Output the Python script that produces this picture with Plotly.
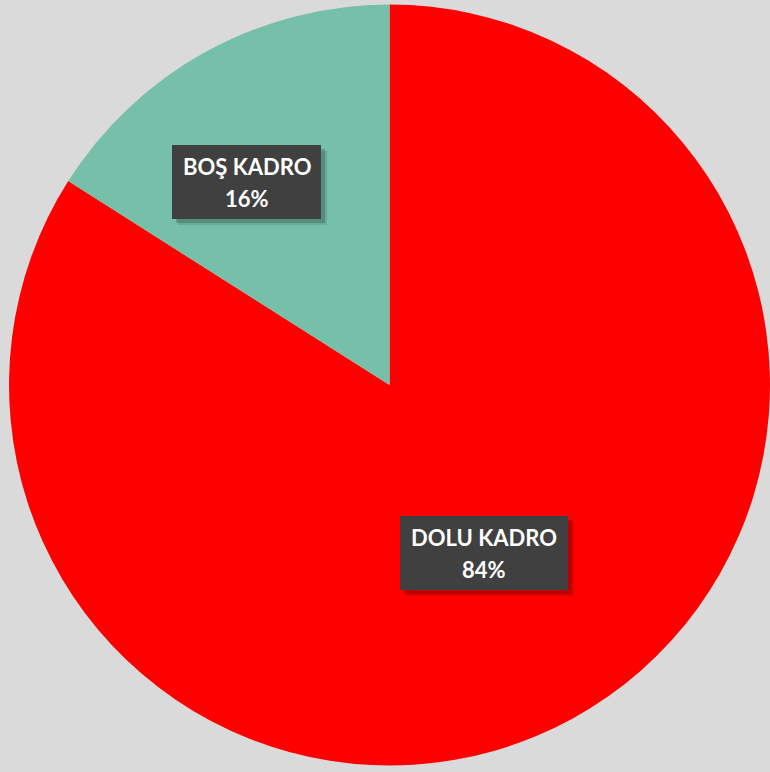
import plotly.graph_objects as go

labels = ["DOLU KADRO", "BOŞ KADRO"]
values = [84, 16]
colors = ["#ff0000", "#76bfa8"]

W, H = 770, 772
# label box centres and sizes in pixels
label_px = {"DOLU KADRO": (484, 553), "BOŞ KADRO": (246.5, 182)}
box_w = {"DOLU KADRO": 168, "BOŞ KADRO": 149}
box_h = 74

total = sum(values)
fig = go.Figure(go.Pie(
    labels=labels, values=values, sort=False, direction="clockwise", rotation=0,
    marker=dict(colors=colors, line=dict(width=0)),
    textinfo="none", hoverinfo="label+percent",
    domain=dict(x=[0.0117, 1.0], y=[0.0065, 0.9961]),
    showlegend=False,
))

def px_rect(cx, cy, w, h, off=0):
    return dict(x0=(cx - w / 2 + off) / W, x1=(cx + w / 2 + off) / W,
                y0=1 - (cy + h / 2 + off) / H, y1=1 - (cy - h / 2 + off) / H)

annotations, shapes = [], []
for lab, val in zip(labels, values):
    cx, cy = label_px[lab]
    w = box_w[lab]
    # soft shadow
    for off, a in [(6, 0.10), (4, 0.18)]:
        shapes.append(dict(type="rect", xref="paper", yref="paper",
                           fillcolor=f"rgba(0,0,0,{a})", line=dict(width=0), layer="above",
                           **px_rect(cx, cy, w, box_h, off)))
    shapes.append(dict(type="rect", xref="paper", yref="paper",
                       fillcolor="#404040", line=dict(width=0), layer="above",
                       **px_rect(cx, cy, w, box_h)))
    pct = round(100 * val / total)
    for txt, dy in [(lab, -16), (f"{pct}%", 16)]:
        annotations.append(dict(x=cx / W, y=1 - (cy + dy) / H, xref="paper", yref="paper",
                                text=f"<b>{txt}</b>", showarrow=False,
                                xanchor="center", yanchor="middle",
                                font=dict(family="Lato", size=22, color="white")))

fig.update_layout(
    width=W, height=H,
    margin=dict(l=0, r=0, t=0, b=0),
    paper_bgcolor="#dadada", plot_bgcolor="#dadada",
    annotations=annotations, shapes=shapes,
)

fig.write_html("out.html", config={"displayModeBar": False},
               post_script="document.body.style.margin='0';")
